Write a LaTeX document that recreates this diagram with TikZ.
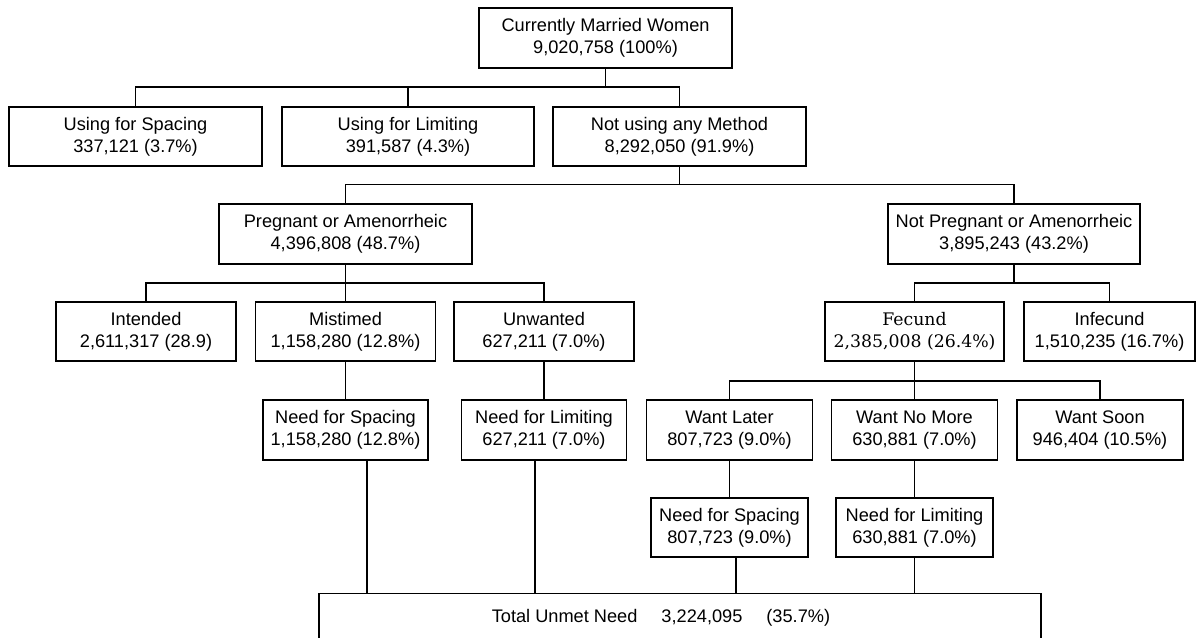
\documentclass[tikz,border=0pt]{standalone}
\usepackage{fontspec}
\newfontfamily\arialfont{Liberation Sans}
\newfontfamily\fecundfont{DejaVu Serif}
\tikzset{
  box/.style={draw, line width=1.2pt, inner sep=0pt, align=center,
    minimum height=59pt, font=\arialfont\fontsize{18.2}{22}\selectfont},
  link/.style={line width=1.2pt}
}
\begin{document}
\begin{tikzpicture}[x=1pt,y=-1pt]
\useasboundingbox (0,0) rectangle (1196,637);
\clip (0,0) rectangle (1196,637);

% Fork levels
\coordinate (f1) at (0,87);
\coordinate (f2) at (0,184.5);
\coordinate (f3) at (0,283);
\coordinate (f4) at (0,381);

% Top box
\node[box, minimum width=253pt, minimum height=60pt] (cmw) at (605.5,38) {Currently Married Women\\9,020,758 (100\%)};

% Method use
\node[box, minimum width=253pt] (usp) at (135.5,136.5) {Using for Spacing\\337,121 (3.7\%)};
\node[box, minimum width=252pt] (ulim) at (408,136.5) {Using for Limiting\\391,587 (4.3\%)};
\node[box, minimum width=253pt] (nonuse) at (679.5,136.5) {Not using any Method\\8,292,050 (91.9\%)};

% Pregnancy status
\node[box, minimum width=253pt, minimum height=60pt] (preg) at (345.5,234) {Pregnant or Amenorrheic\\4,396,808 (48.7\%)};
\node[box, minimum width=252pt, minimum height=60pt] (notpreg) at (1014,234) {Not Pregnant or Amenorrheic\\3,895,243 (43.2\%)};

% Intention and fecundity
\node[box, minimum width=180pt] (intend) at (146,331.5) {Intended\\2,611,317 (28.9)};
\node[box, minimum width=180pt] (mistim) at (345.5,331.5) {Mistimed\\1,158,280 (12.8\%)};
\node[box, minimum width=180pt] (unwant) at (544,331.5) {Unwanted\\627,211 (7.0\%)};
\node[box, minimum width=179pt, font=\fecundfont\fontsize{17.3}{22}\selectfont] (fecund) at (914.5,331.5) {Fecund\\2,385,008 (26.4\%)};
\node[box, minimum width=171pt] (infecund) at (1109.5,331.5) {Infecund\\1,510,235 (16.7\%)};

% Need and desire
\node[box, minimum width=165pt, minimum height=60pt] (nsp1) at (345.5,430) {Need for Spacing\\1,158,280 (12.8\%)};
\node[box, minimum width=165pt, minimum height=60pt] (nlim1) at (544,430) {Need for Limiting\\627,211 (7.0\%)};
\node[box, minimum width=166pt, minimum height=60pt] (later) at (729.5,430) {Want Later\\807,723 (9.0\%)};
\node[box, minimum width=166pt, minimum height=60pt] (nomore) at (914.5,430) {Want No More\\630,881 (7.0\%)};
\node[box, minimum width=166pt, minimum height=60pt] (soon) at (1100,430) {Want Soon\\946,404 (10.5\%)};

% Need from fecund women
\node[box, minimum width=157pt] (nsp2) at (729.5,527.5) {Need for Spacing\\807,723 (9.0\%)};
\node[box, minimum width=157pt] (nlim2) at (914.5,527.5) {Need for Limiting\\630,881 (7.0\%)};

% Total
\node[box, minimum width=722pt, anchor=north] (total) at (680,593) {};
\node[font=\arialfont\fontsize{18.2}{22}\selectfont, inner sep=0pt] (totaltext) at (661,618) {Total Unmet Need\hspace{24pt}3,224,095\hspace{24pt}(35.7\%)};

% Top fork
\draw[link] (cmw.south) -- (cmw.south |- f1);
\draw[link] (usp.north) |- (nonuse.north |- f1) -- (nonuse.north);
\draw[link] (ulim.north) -- (ulim.north |- f1);

% Not using fork
\draw[link] (nonuse.south) -- (nonuse.south |- f2);
\draw[link] (preg.north) |- (notpreg.north |- f2) -- (notpreg.north);

% Pregnant fork
\draw[link] (preg.south) -- (preg.south |- f3);
\draw[link] (intend.north) |- (unwant.north |- f3) -- (unwant.north);
\draw[link] (mistim.north) -- (mistim.north |- f3);

% Not pregnant fork
\draw[link] (notpreg.south) -- (notpreg.south |- f3);
\draw[link] (fecund.north) |- (infecund.north |- f3) -- (infecund.north);

% Fecund fork
\draw[link] (fecund.south) -- (fecund.south |- f4);
\draw[link] (later.north) |- (soon.north |- f4) -- (soon.north);
\draw[link] (nomore.north) -- (nomore.north |- f4);

% Single links
\draw[link] (mistim.south) -- (nsp1.north);
\draw[link] (unwant.south) -- (nlim1.north);
\draw[link] (later.south) -- (nsp2.north);
\draw[link] (nomore.south) -- (nlim2.north);

% Links to total
\draw[link] ([xshift=21.5pt]nsp1.south) -- ([xshift=21.5pt]nsp1.south |- total.north);
\draw[link] ([xshift=-9pt]nlim1.south) -- ([xshift=-9pt]nlim1.south |- total.north);
\draw[link] ([xshift=6.5pt]nsp2.south) -- ([xshift=6.5pt]nsp2.south |- total.north);
\draw[link] (nlim2.south) -- (nlim2.south |- total.north);
\end{tikzpicture}
\end{document}
